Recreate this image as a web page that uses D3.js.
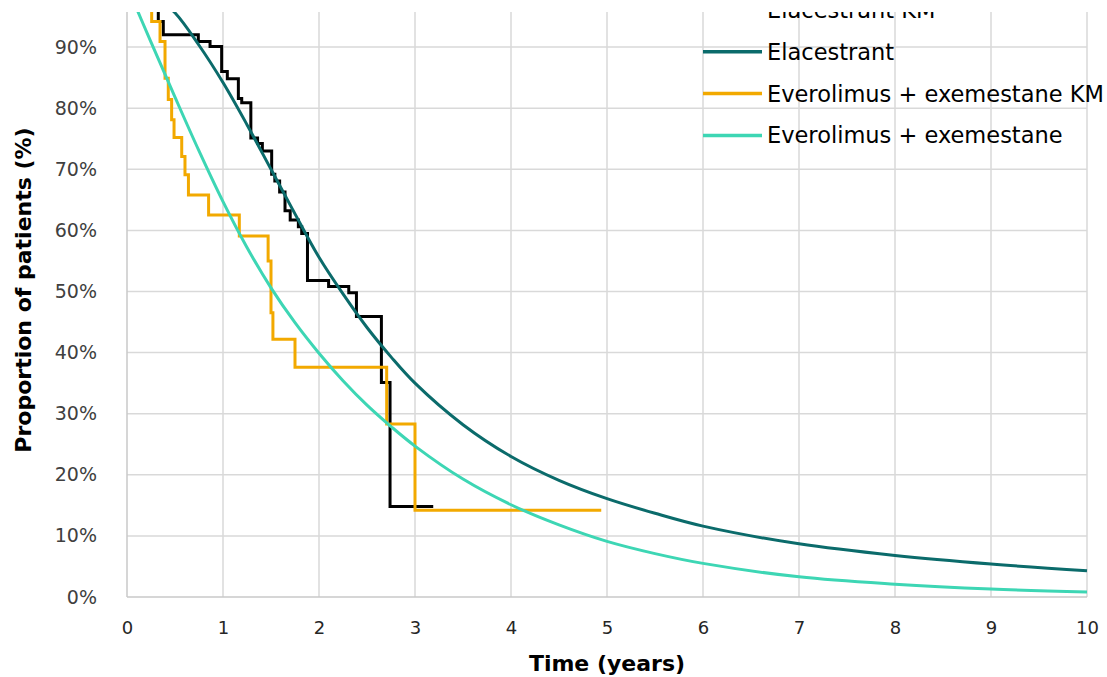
<!DOCTYPE html>
<html>
<head>
<meta charset="utf-8">
<script src="https://cdn.jsdelivr.net/npm/d3@7"></script>
<style>
  body { margin: 0; background: #fff; }
  svg { display: block; font-family: "DejaVu Sans", sans-serif; }
</style>
</head>
<body>
<div id="chart"></div>
<script>
// Kaplan-Meier steps (time in years, proportion in %)
const elacKmTime = [0, 0.326, 0.378, 0.743, 0.865, 0.986, 1.045, 1.16, 1.195, 1.29, 1.36, 1.41, 1.507, 1.54, 1.59, 1.646, 1.70, 1.785, 1.82, 1.88, 2.10, 2.31, 2.39, 2.65, 2.74, 3.19];
const elacKmSurv = [100, 94.2, 92.0, 90.9, 90.1, 86.0, 84.8, 81.6, 80.9, 75.1, 74.2, 73.0, 69.2, 68.1, 66.3, 63.2, 61.7, 60.6, 59.5, 51.8, 50.8, 49.8, 45.9, 35.1, 14.8, 14.8];

const everoKmTime = [0, 0.257, 0.344, 0.396, 0.43, 0.465, 0.49, 0.57, 0.604, 0.64, 0.85, 1.17, 1.47, 1.50, 1.52, 1.75, 2.705, 3.0, 4.94];
const everoKmSurv = [100, 94.2, 90.9, 84.9, 81.4, 78.1, 75.2, 72.1, 69.1, 65.8, 62.5, 59.1, 55.0, 46.5, 42.2, 37.6, 28.3, 14.2, 14.2];

// Fitted curves
const curveTime = [0, 0.25, 0.5, 0.75, 1, 1.25, 1.5, 1.75, 2, 2.25, 2.5, 2.75, 3, 3.5, 4, 4.5, 5, 5.5, 6, 7, 8, 9, 10];
const elacSurv = [100, 99.0, 95.6, 90.3, 84.2, 77.3, 70.0, 62.7, 55.6, 49.6, 44.1, 39.3, 35.0, 28.2, 23.0, 19.1, 16.1, 13.7, 11.6, 8.7, 6.8, 5.4, 4.3];
const everoSurv = [100, 90.8, 81.8, 73.0, 64.7, 57.2, 50.6, 44.9, 39.9, 35.4, 31.4, 27.9, 24.7, 19.3, 15.1, 11.8, 9.1, 7.1, 5.5, 3.3, 2.1, 1.3, 0.8];

const xTicks = [0, 1, 2, 3, 4, 5, 6, 7, 8, 9, 10];
const yTicks = [0, 10, 20, 30, 40, 50, 60, 70, 80, 90];

const seriesNames = ['Elacestrant KM', 'Elacestrant', 'Everolimus + exemestane KM', 'Everolimus + exemestane'];
const seriesColors = ['#000000', '#0b6b6b', '#f2a900', '#3dd6b4'];

// Layout
const width = 1107;
const height = 677;
const margin = { top: 12, right: 20, bottom: 80, left: 127 };

const svg = d3.select('#chart')
    .append('svg')
    .attr('width', width)
    .attr('height', height);

const x = d3.scaleLinear().domain([0, 10]).range([margin.left, width - margin.right]);
// the picture is cropped just below 96%
const y = d3.scaleLinear().domain([0, 95.74]).range([height - margin.bottom, margin.top]);

svg.append('defs').append('clipPath').attr('id', 'clip')
    .append('rect')
    .attr('x', 0).attr('y', margin.top)
    .attr('width', width).attr('height', height - margin.top);

const plot = svg.append('g').attr('clip-path', 'url(#clip)');

// Grid
plot.append('g')
    .selectAll('line')
    .data(xTicks.slice(1))
    .join('line')
    .attr('x1', d => x(d)).attr('x2', d => x(d))
    .attr('y1', y(0)).attr('y2', margin.top)
    .attr('stroke', '#d9d9d9').attr('stroke-width', 1.5);

plot.append('g')
    .selectAll('line')
    .data(yTicks.slice(1))
    .join('line')
    .attr('x1', x(0)).attr('x2', x(10))
    .attr('y1', d => y(d)).attr('y2', d => y(d))
    .attr('stroke', '#d9d9d9').attr('stroke-width', 1.5);

// Axes lines
plot.append('line')
    .attr('x1', x(0)).attr('x2', x(10))
    .attr('y1', y(0)).attr('y2', y(0))
    .attr('stroke', '#c8c8c8').attr('stroke-width', 1.5);
plot.append('line')
    .attr('x1', x(0)).attr('x2', x(0))
    .attr('y1', y(0)).attr('y2', margin.top)
    .attr('stroke', '#c8c8c8').attr('stroke-width', 1.5);

// Tick labels via axes
const xAxis = svg.append('g')
    .attr('transform', `translate(0, ${y(0)})`)
    .call(d3.axisBottom(x).tickValues(xTicks).tickSize(0).tickPadding(24).tickFormat(d3.format('d')));
xAxis.select('.domain').remove();
xAxis.selectAll('text')
    .attr('font-family', '"DejaVu Sans", sans-serif')
    .attr('font-size', 18)
    .attr('fill', '#262626');

const yAxis = svg.append('g')
    .attr('transform', `translate(${x(0)}, 0)`)
    .call(d3.axisLeft(y).tickValues(yTicks).tickSize(0).tickPadding(30).tickFormat(d => d + '%'));
yAxis.select('.domain').remove();
yAxis.selectAll('text')
    .attr('font-family', '"DejaVu Sans", sans-serif')
    .attr('font-size', 19)
    .attr('fill', '#404040');

// Series
const stepLine = d3.line()
    .x(d => x(d[0]))
    .y(d => y(d[1]))
    .curve(d3.curveStepAfter);

const smoothLine = d3.line()
    .x(d => x(d[0]))
    .y(d => y(d[1]))
    .curve(d3.curveCatmullRom.alpha(0.5));

const series = [
    { pts: d3.zip(elacKmTime, elacKmSurv), gen: stepLine },
    { pts: d3.zip(curveTime, elacSurv), gen: smoothLine },
    { pts: d3.zip(everoKmTime, everoKmSurv), gen: stepLine },
    { pts: d3.zip(curveTime, everoSurv), gen: smoothLine }
];

series.forEach((s, i) => {
    plot.append('path')
        .attr('d', s.gen(s.pts))
        .attr('fill', 'none')
        .attr('stroke', seriesColors[i])
        .attr('stroke-width', 3)
        .attr('stroke-linejoin', 'miter');
});

// Legend (top row falls partly outside the crop)
const legend = plot.append('g').attr('transform', 'translate(703, 18)');
const entries = legend.selectAll('g')
    .data(seriesNames)
    .join('g')
    .attr('transform', (d, i) => `translate(0, ${i * 41.8})`);

entries.append('line')
    .attr('x1', 0).attr('x2', 59)
    .attr('y1', -8).attr('y2', -8)
    .attr('stroke', (d, i) => seriesColors[i])
    .attr('stroke-width', 3.5);

entries.append('text')
    .attr('x', 64)
    .attr('y', 0)
    .attr('font-size', 22.5)
    .attr('fill', '#000')
    .text(d => d);

// Axis titles
svg.append('text')
    .attr('x', x(5))
    .attr('y', 671)
    .attr('text-anchor', 'middle')
    .attr('font-size', 22)
    .attr('font-weight', 'bold')
    .text('Time (years)');

svg.append('text')
    .attr('transform', 'translate(31, 290) rotate(-90)')
    .attr('text-anchor', 'middle')
    .attr('font-size', 22)
    .attr('font-weight', 'bold')
    .text('Proportion of patients (%)');
</script>
</body>
</html>
